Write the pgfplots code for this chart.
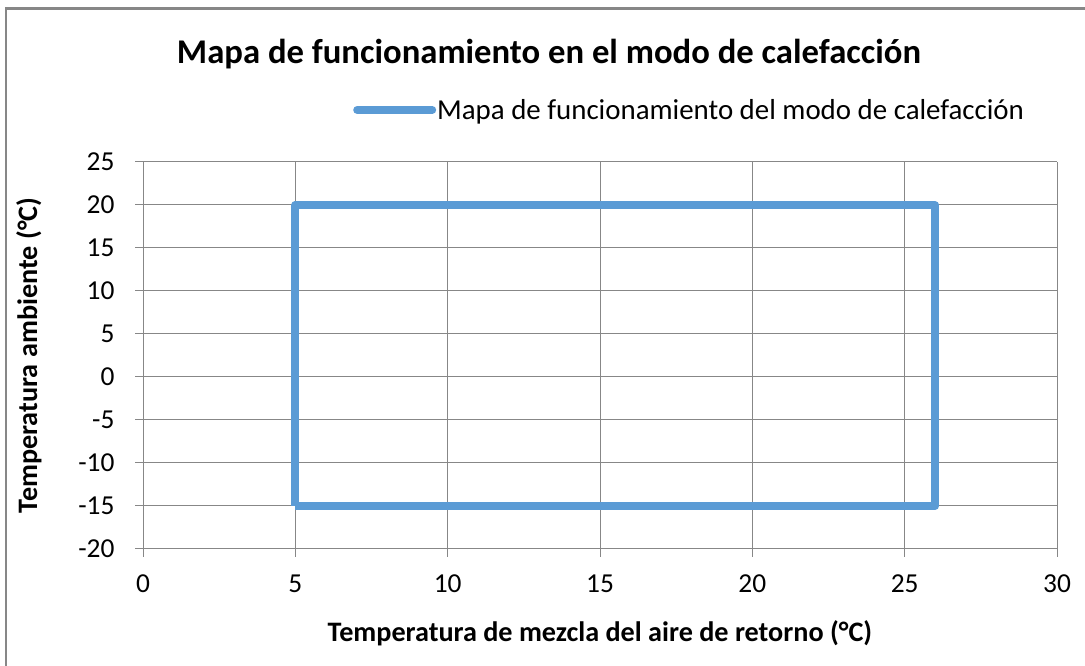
\documentclass[border=0pt]{standalone}
\usepackage{pgfplots}
\pgfplotsset{compat=1.18}
\usepackage{fontspec}
\setmainfont{Carlito}
\definecolor{exblue}{HTML}{5B9BD5}
\definecolor{gridg}{HTML}{878787}
\begin{document}
\begin{tikzpicture}[x=1bp,y=1bp]
\path[use as bounding box] (0,0) rectangle (1085,666);
\draw[gridg, line width=2.2bp] (6,0) -- (6,657.5) -- (1085,657.5);
\node[font=\fontsize{34.8}{40}\selectfont\bfseries] at (549,612) {Mapa de funcionamiento en el modo de calefacción};
\begin{axis}[
  at={(143bp,117bp)}, anchor=south west,
  scale only axis, width=914bp, height=387bp,
  xmin=0, xmax=30, ymin=-20, ymax=25,
  xtick={0,5,...,30}, ytick={-20,-15,...,25},
  axis x line*=bottom, axis y line*=left,
  axis line style={gridg, line width=1pt, -},
  grid=major, major grid style={gridg, line width=1pt},
  tick style={gridg, line width=1pt},
  major tick length=8bp, tick align=outside,
  /pgf/number format/assume math mode=true,
  ticklabel style={font=\fontsize{27.5}{30}\selectfont, text=black},
  xticklabel style={yshift=-14bp},
  yticklabel style={xshift=-17bp},
  label style={font=\fontsize{28.3}{32}\selectfont\bfseries},
  xlabel={Temperatura de mezcla del aire de retorno (°C)},
  ylabel={Temperatura ambiente (°C)},
  xlabel style={at={(axis description cs:0.5,0)}, anchor=north, yshift=-68bp},
  ylabel style={at={(axis description cs:0,0.5)}, anchor=south, yshift=98bp},
  legend style={at={(210bp,439bp)}, anchor=west, draw=none, fill=none,
    inner xsep=0pt, inner ysep=0pt, font=\fontsize{29}{32}\selectfont,
    legend cell align=left, nodes={inner xsep=1bp}},
  legend image code/.code={\draw[#1, line cap=round] (0,0) -- (75bp,0);},
]
\addplot[exblue, line width=8bp, line join=round, mark=none] coordinates {
  (5,-15) (5,20) (26,20) (26,-15) (5,-15)
};
\addlegendentry{Mapa de funcionamiento del modo de calefacción}
\end{axis}
\end{tikzpicture}
\end{document}
